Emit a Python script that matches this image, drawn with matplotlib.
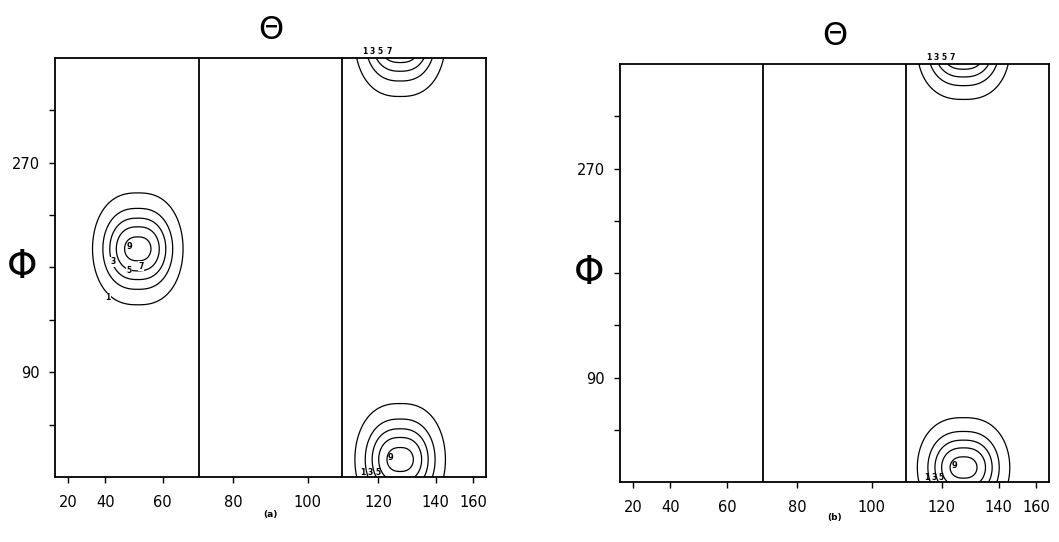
import numpy as np
import matplotlib
matplotlib.use("Agg")
import matplotlib.pyplot as plt

# ---- data ----
theta_ticks = [20, 40, 60, 80, 100, 120, 140, 160]
phi_ticks = [45, 90, 135, 180, 225, 270, 315]
phi_tick_labels = ["", "90", "", "", "", "270", ""]
divider_theta = [70.53, 109.47]
contour_levels = [1, 3, 5, 7, 9]

# panel (a): two peaks (the right one wraps around Phi = 0/360)
peak_theta_a = [52.0, 127.0]
peak_phi_a = [196.0, 15.0]
peak_amp_a = [10.0, 10.0]
peak_sig_u_a = [0.114, 0.114]
peak_sig_phi_a = [22.4, 22.4]

# panel (b): a single peak
peak_theta_b = [127.0]
peak_phi_b = [12.5]
peak_amp_b = [10.0]
peak_sig_u_b = [0.117]
peak_sig_phi_b = [20.0]

# flatness of the peaks along Theta (2 = gaussian)
peak_shape_u = 2.5

panel_tags = ["(a)", "(b)"]
# contour label anchor points (theta, phi) for the left peak of panel (a)
label_levels_a = [1, 3, 5, 7]
label_theta_a = [41, 43, 49, 53]
label_phi_a = [154, 185, 177, 181]
# labels printed along the top edge (above the wrapped peak)
top_label_levels = [1, 3, 5, 7]
top_label_theta = [116.0, 118.2, 120.6, 123.4]
top_label_phi = 366
# labels printed along the bottom edge
bottom_label_levels = [1, 3, 5]
bottom_label_theta = [115.5, 117.6, 119.8]
bottom_label_phi = 4


def fwd(t):
    return -np.cos(np.radians(t))


def inv(u):
    return np.degrees(np.arccos(np.clip(-u, -1, 1)))


u = np.linspace(-1, 1, 500)
theta_grid = inv(u)
phi_grid = np.linspace(0, 360, 721)
TH, PH = np.meshgrid(theta_grid, phi_grid)
U, _ = np.meshgrid(u, phi_grid)


def field(thetas, phis, amps, su, sp):
    Z = np.zeros_like(U)
    for t, p, a, s1, s2 in zip(thetas, phis, amps, su, sp):
        dphi = (PH - p + 180.0) % 360.0 - 180.0
        Z += a * np.exp(-0.5 * np.abs((U - fwd(t)) / s1) ** peak_shape_u
                        - 0.5 * (dphi / s2) ** 2)
    return Z


fig = plt.figure(figsize=(10.59, 5.42), dpi=100)
ax_a = fig.add_axes([0.0519, 0.120, 0.407, 0.773])
ax_b = fig.add_axes([0.5855, 0.1107, 0.405, 0.771])

panels = [
    (ax_a, field(peak_theta_a, peak_phi_a, peak_amp_a, peak_sig_u_a, peak_sig_phi_a),
     peak_theta_a, peak_phi_a, -0.077, -0.09),
    (ax_b, field(peak_theta_b, peak_phi_b, peak_amp_b, peak_sig_u_b, peak_sig_phi_b),
     peak_theta_b, peak_phi_b, -0.072, -0.084),
]

lab_kw = dict(fontsize=5.5, fontweight="bold", ha="center", va="center")

for i, (ax, Z, pt, pp, ylab_x, tag_y) in enumerate(panels):
    ax.set_xscale("function", functions=(fwd, inv))
    cs = ax.contour(TH, PH, Z, levels=contour_levels, colors="black", linewidths=0.9)
    for t in divider_theta:
        ax.axvline(t, color="black", lw=1.3)
    ax.set_xlim(0, 180)
    ax.set_ylim(0, 360)
    ax.set_xticks(theta_ticks)
    ax.set_xticklabels([str(v) for v in theta_ticks])
    ax.set_yticks(phi_ticks)
    ax.set_yticklabels(phi_tick_labels)
    ax.minorticks_off()
    ax.tick_params(direction="out", length=4, width=1, labelsize=10.5,
                   top=False, right=False)
    ax.tick_params(axis="x", pad=9)
    ax.tick_params(axis="y", pad=7)
    for s in ax.spines.values():
        s.set_linewidth(1.3)
    ax.set_title("Θ", fontsize=23, pad=14)
    ax.set_ylabel("Φ", fontsize=28, rotation=0, va="center", ha="center")
    ax.yaxis.set_label_coords(ylab_x, 0.5)
    ax.text(0.5, tag_y, panel_tags[i], transform=ax.transAxes, ha="center",
            va="center", fontsize=6.5, fontweight="bold")
    # mark the peak maximum
    for t, p in zip(pt, pp):
        ax.text(t - 3, p + 2, str(contour_levels[-1]), fontsize=6,
                fontweight="bold", ha="center", va="center")
    if i == 0:
        for lev, t, p in zip(label_levels_a, label_theta_a, label_phi_a):
            ax.text(t, p, str(lev), bbox=dict(facecolor="white",
                    edgecolor="none", pad=0.3), **lab_kw)
    for lev, t in zip(top_label_levels, top_label_theta):
        ax.text(t, top_label_phi, str(lev), clip_on=False, **lab_kw)
    for lev, t in zip(bottom_label_levels, bottom_label_theta):
        ax.text(t, bottom_label_phi, str(lev), **lab_kw)

fig.savefig("out.png", dpi=100, facecolor="white")
